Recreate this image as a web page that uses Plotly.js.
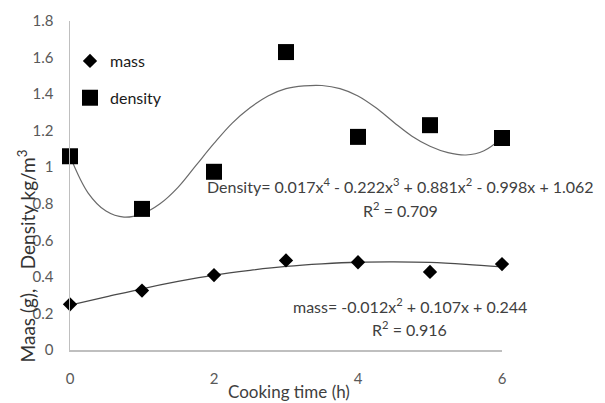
<!DOCTYPE html>
<html>
<head>
<meta charset="utf-8">
<script src="https://cdn.plot.ly/plotly-3.0.1.min.js"></script>
<style>html,body{margin:0;padding:0;background:#fff;}#chart{width:605px;height:403px;}</style>
</head>
<body>
<div id="chart"></div>
<script>
// Observed data
const hours = [0, 1, 2, 3, 4, 5, 6];
const mass = [0.25, 0.325, 0.41, 0.49, 0.48, 0.427, 0.47];
const density = [1.06, 0.772, 0.975, 1.63, 1.166, 1.23, 1.16];

// Trendline curves
const densityTrendX = [0, 0.25, 0.5, 0.75, 1, 1.25, 1.5, 1.75, 2, 2.25, 2.5, 2.75, 3, 3.25, 3.5, 3.75, 4, 4.25, 4.5, 4.75, 5, 5.25, 5.5, 5.75, 6];
const densityTrendY = [1.06, 0.86, 0.76, 0.727, 0.745, 0.80, 0.89, 1.01, 1.13, 1.24, 1.325, 1.39, 1.43, 1.445, 1.447, 1.43, 1.39, 1.325, 1.245, 1.17, 1.115, 1.08, 1.067, 1.09, 1.16];
const massTrendX = [0, 0.5, 1, 1.5, 2, 2.5, 3, 3.5, 4, 4.5, 5, 5.5, 6];
const massTrendY = [0.245, 0.29, 0.335, 0.375, 0.41, 0.436, 0.457, 0.471, 0.48, 0.482, 0.479, 0.469, 0.455];

const xTicks = [0, 2, 4, 6];
const yTicks = [0, 0.2, 0.4, 0.6, 0.8, 1, 1.2, 1.4, 1.6, 1.8];
const yTickText = ['0', '0.2', '0.4', '0.6', '0.8', '1', '1.2', '1.4', '1.6', '1.8'];

const FONT = 'Lato, "Open Sans", sans-serif';

const traces = [
  {x: densityTrendX, y: densityTrendY, mode: 'lines', line: {color: '#6a6a6a', width: 1.2, shape: 'spline'}, showlegend: false, hoverinfo: 'skip'},
  {x: massTrendX, y: massTrendY, mode: 'lines', line: {color: '#4a4a4a', width: 1.3, shape: 'spline'}, showlegend: false, hoverinfo: 'skip'},
  {x: hours, y: mass, mode: 'markers', name: 'mass', legendgroup: 'a', marker: {symbol: 'diamond', size: 11, color: '#000'}, cliponaxis: false},
  {x: hours, y: density, mode: 'markers', name: 'density', legendgroup: 'b', marker: {symbol: 'square', size: 16, color: '#000'}, cliponaxis: false}
];

const layout = {
  width: 605, height: 403,
  margin: {l: 69.5, r: 102.5, t: 20.5, b: 52.5},
  paper_bgcolor: '#fff', plot_bgcolor: '#fff',
  font: {family: FONT, size: 14, color: '#595959'},
  showlegend: true,
  legend: {x: 0.0, y: 0.93, xanchor: 'left', yanchor: 'top', bgcolor: 'rgba(0,0,0,0)',
           font: {family: FONT, size: 16, color: '#1a1a1a'}, traceorder: 'grouped', tracegroupgap: 13, itemwidth: 30},
  xaxis: {range: [0, 6], tickvals: xTicks, ticktext: xTicks.map(String), showgrid: false, zeroline: false,
          showline: true, linecolor: '#bfbfbf', linewidth: 1.5, ticks: '', ticklabelstandoff: 14,
          tickfont: {family: FONT, size: 15, color: '#595959'}},
  yaxis: {range: [0, 1.8], tickvals: yTicks, ticktext: yTickText, showgrid: false, zeroline: false,
          showline: true, linecolor: '#bfbfbf', linewidth: 1.5, ticks: '', ticklabelstandoff: 12,
          tickfont: {family: FONT, size: 15, color: '#595959'}},
  annotations: [
    {text: 'Density= 0.017x<sup>4</sup> - 0.222x<sup>3</sup> + 0.881x<sup>2</sup> - 0.998x + 1.062', xref: 'paper', yref: 'paper',
     x: (401 - 69.5) / 433, y: (350.5 - 186) / 330, xanchor: 'center', yanchor: 'middle', showarrow: false,
     font: {family: FONT, size: 16, color: '#404040'}},
    {text: 'R<sup>2</sup> = 0.709', xref: 'paper', yref: 'paper',
     x: (401 - 69.5) / 433, y: (350.5 - 210) / 330, xanchor: 'center', yanchor: 'middle', showarrow: false,
     font: {family: FONT, size: 16, color: '#404040'}},
    {text: 'mass= -0.012x<sup>2</sup> + 0.107x + 0.244', xref: 'paper', yref: 'paper',
     x: (410 - 69.5) / 433, y: (350.5 - 306) / 330, xanchor: 'center', yanchor: 'middle', showarrow: false,
     font: {family: FONT, size: 16, color: '#404040'}},
    {text: 'R<sup>2</sup> = 0.916', xref: 'paper', yref: 'paper',
     x: (410 - 69.5) / 433, y: (350.5 - 329) / 330, xanchor: 'center', yanchor: 'middle', showarrow: false,
     font: {family: FONT, size: 16, color: '#404040'}},
    {text: 'Maas (g),\u00a0\u00a0\u00a0\u00a0Density kg/m<sup>3</sup>', xref: 'paper', yref: 'paper',
     x: (26 - 69.5) / 433, y: (350.5 - 256) / 330, xanchor: 'center', yanchor: 'middle', textangle: -90, showarrow: false,
     font: {family: FONT, size: 19, color: '#333'}},
    {text: 'Cooking time (h)', xref: 'paper', yref: 'paper',
     x: (289 - 69.5) / 433, y: (350.5 - 392) / 330, xanchor: 'center', yanchor: 'middle', showarrow: false,
     font: {family: FONT, size: 17, color: '#404040'}}
  ]
};

Plotly.newPlot('chart', traces, layout, {displayModeBar: false, staticPlot: true});
</script>
</body>
</html>
